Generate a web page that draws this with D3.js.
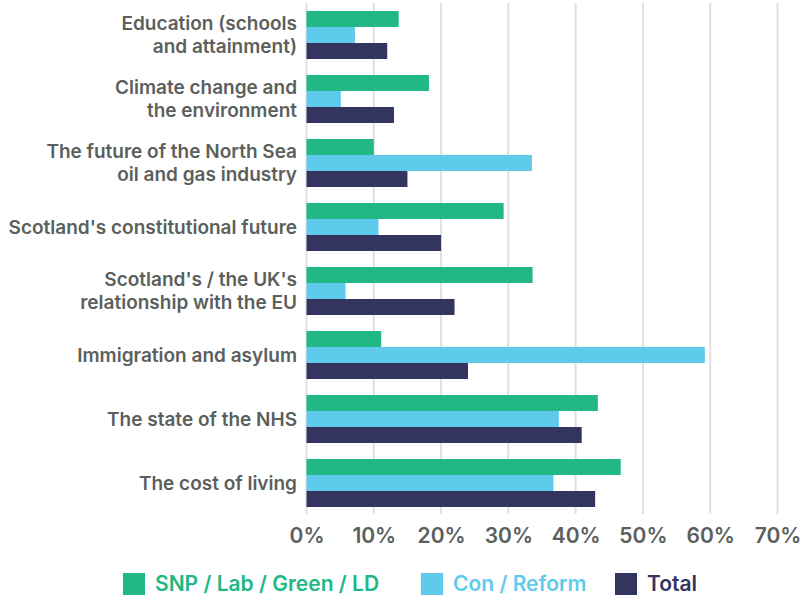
<!DOCTYPE html>
<html>
<head>
<meta charset="utf-8">
<script src="https://cdn.jsdelivr.net/npm/d3@7"></script>
<style>
    body { margin: 0; background: #fff; }
    text { font-family: Inter, "Open Sans", sans-serif; }
</style>
</head>
<body>
<div id="chart"></div>
<script>
const categories = [
    ["Education (schools", "and attainment)"],
    ["Climate change and", "the environment"],
    ["The future of the North Sea", "oil and gas industry"],
    ["Scotland's constitutional future"],
    ["Scotland's / the UK's", "relationship with the EU"],
    ["Immigration and asylum"],
    ["The state of the NHS"],
    ["The cost of living"]
];
const seriesNames = ["SNP / Lab / Green / LD", "Con / Reform", "Total"];
const snpLabGreenLd = [13.7, 18.2, 10, 29.3, 33.6, 11.1, 43.3, 46.7];
const conReform = [7.2, 5.1, 33.5, 10.7, 5.8, 59.2, 37.5, 36.7];
const total = [12, 13, 15, 20, 22, 24, 40.9, 42.9];
const xTicks = [0, 10, 20, 30, 40, 50, 60, 70];

const colors = ["#21b884", "#5ecbec", "#343461"];
const textGrey = "#5b5f5d";

const width = 800, height = 600;
const plotLeft = 306.5, plotRight = 777.5;

const svg = d3.select("#chart").append("svg")
    .attr("width", width)
    .attr("height", height);

const x = d3.scaleLinear().domain([0, 70]).range([plotLeft, plotRight]);
const y = d3.scaleBand()
    .domain(d3.range(categories.length))
    .range([3, 515])
    .paddingInner(0.25)
    .paddingOuter(0.125);
const ySub = d3.scaleBand().domain([0, 1, 2]).range([0, y.bandwidth()]);

// grid
svg.append("g")
    .selectAll("line")
    .data(xTicks)
    .enter().append("line")
    .attr("x1", d => x(d)).attr("x2", d => x(d))
    .attr("y1", 3).attr("y2", 514)
    .attr("stroke", "#e0e0e0")
    .attr("stroke-width", 2);

// bars
const rows = categories.map((c, i) => [snpLabGreenLd[i], conReform[i], total[i]]);
const group = svg.append("g")
    .selectAll("g")
    .data(rows)
    .enter().append("g")
    .attr("transform", (d, i) => "translate(0," + y(i) + ")");

group.selectAll("rect")
    .data(d => d)
    .enter().append("rect")
    .attr("x", x(0))
    .attr("y", (d, j) => ySub(j))
    .attr("width", d => x(d) - x(0))
    .attr("height", ySub.bandwidth())
    .attr("fill", (d, j) => colors[j]);

// x axis labels
const xAxis = d3.axisBottom(x)
    .tickValues(xTicks)
    .tickFormat(d => d + "%")
    .tickSize(0)
    .tickPadding(0);

svg.append("g")
    .attr("transform", "translate(0,528)")
    .call(xAxis)
    .call(g => g.select(".domain").remove())
    .selectAll("text")
    .attr("fill", textGrey)
    .attr("font-size", 21)
    .attr("font-weight", 600)
    .attr("font-family", "Inter, sans-serif");

// category labels
const labels = svg.append("g")
    .selectAll("text")
    .data(categories)
    .enter().append("text")
    .attr("text-anchor", "end")
    .attr("fill", textGrey)
    .attr("font-size", 19)
    .attr("font-weight", 600)
    .attr("transform", (d, i) => "translate(297," + (y(i) + y.bandwidth() / 2) + ")");

labels.selectAll("tspan")
    .data(d => d.map((t, k) => ({t, k, n: d.length})))
    .enter().append("tspan")
    .attr("x", 0)
    .attr("y", d => (d.k - (d.n - 1) / 2) * 23)
    .attr("dy", "0.35em")
    .text(d => d.t);

// legend
const legendX = [123, 421, 615];
const legend = svg.append("g")
    .selectAll("g")
    .data(seriesNames)
    .enter().append("g")
    .attr("transform", (d, i) => "translate(" + legendX[i] + ",573)");

legend.append("rect")
    .attr("width", 22)
    .attr("height", 22)
    .attr("fill", (d, i) => colors[i]);

legend.append("text")
    .attr("x", 32)
    .attr("y", 11)
    .attr("dy", "0.35em")
    .attr("font-size", 21)
    .attr("font-weight", 600)
    .attr("fill", (d, i) => colors[i])
    .text(d => d);
</script>
</body>
</html>
